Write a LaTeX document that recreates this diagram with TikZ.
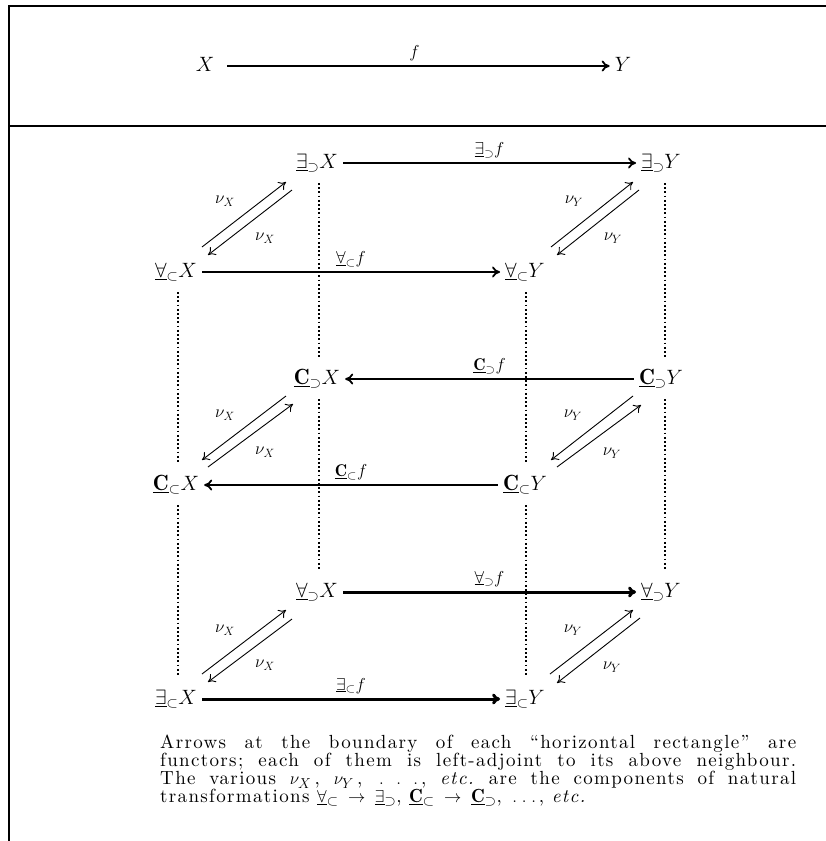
\documentclass[tikz,border=0pt]{standalone}
\usepackage{fontspec}
\usetikzlibrary{arrows.meta}
\newfontfamily\capfont{lmroman10-regular}[Extension=.otf, LetterSpace=7, ItalicFont=lmroman10-italic, BoldFont=lmroman10-bold]
\tikzset{
  obj/.style={font=\fontsize{22}{26}\selectfont, text height=15pt, text depth=4pt, inner sep=5pt},
  lab/.style={font=\fontsize{17}{20}\selectfont, inner sep=4pt},
  nulab/.style={font=\fontsize{18}{20}\selectfont, inner sep=0pt},
  harrow/.style={line width=1.8pt, -{To[length=8pt,width=11pt]}},
  heavyarrow/.style={line width=3pt, -{To[length=8pt,width=11pt]}},
  narrow/.style={line width=0.9pt, -{To[length=7pt,width=10pt]}},
  dotline/.style={line width=1.8pt, dash pattern=on 1.8pt off 2.4pt, shorten <=20pt, shorten >=22pt},
  framerule/.style={line width=2.8pt, line join=miter},
  captext/.style={font=\capfont\fontsize{19}{18}\selectfont\frenchspacing, text width=636pt, align=justify, inner sep=0pt}
}
\newcommand{\ulsub}[2]{\underline{#1}_{#2}}
\begin{document}
\begin{tikzpicture}[x=1pt,y=-1pt]
\useasboundingbox (0,0) rectangle (826,841);
% frame
\draw[framerule] (9,841) -- (9,6) -- (826,6);
\draw[framerule] (9,126) -- (826,126);
% top diagram
\node[obj] (tx) at (205,66) {$X$};
\node[obj] (ty) at (623,66) {$Y$};
\draw[harrow, shorten <=8pt] (tx) -- node[lab, above] (tf) {$f$} (ty);
% cube nodes
\node[obj] (eX) at (317,163) {$\ulsub{\exists}{\supset}X$};
\node[obj] (eY) at (661,163) {$\ulsub{\exists}{\supset}Y$};
\node[obj] (aX) at (176,272) {$\ulsub{\forall}{\subset}X$};
\node[obj] (aY) at (525,272) {$\ulsub{\forall}{\subset}Y$};
\node[obj] (cX) at (317,379) {$\ulsub{\mathbf{C}}{\supset}X$};
\node[obj] (cY) at (661,379) {$\ulsub{\mathbf{C}}{\supset}Y$};
\node[obj] (dX) at (176,485) {$\ulsub{\mathbf{C}}{\subset}X$};
\node[obj] (dY) at (525,485) {$\ulsub{\mathbf{C}}{\subset}Y$};
\node[obj] (bX) at (317,592) {$\ulsub{\forall}{\supset}X$};
\node[obj] (bY) at (661,592) {$\ulsub{\forall}{\supset}Y$};
\node[obj] (gX) at (176,699) {$\ulsub{\exists}{\subset}X$};
\node[obj] (gY) at (525,699) {$\ulsub{\exists}{\subset}Y$};
% dotted verticals
\draw[dotline] ([xshift=2pt]eX.center) -- ([xshift=2pt]cX.center);
\draw[dotline] ([xshift=2pt]cX.center) -- ([xshift=2pt]bX.center);
\draw[dotline] ([xshift=4pt]eY.center) -- ([xshift=4pt]cY.center);
\draw[dotline] ([xshift=4pt]cY.center) -- ([xshift=4pt]bY.center);
\draw[dotline] ([xshift=2pt]aX.center) -- ([xshift=2pt]dX.center);
\draw[dotline] ([xshift=2pt]dX.center) -- ([xshift=2pt]gX.center);
\draw[dotline] ([xshift=1pt]aY.center) -- ([xshift=1pt]dY.center);
\draw[dotline] ([xshift=1pt]dY.center) -- ([xshift=1pt]gY.center);
% horizontal arrows
\draw[harrow] (eX) -- node[lab, above] (leXY) {$\ulsub{\exists}{\supset}f$} (eY);
\draw[harrow] (aX) -- node[lab, above] (laXY) {$\ulsub{\forall}{\subset}f$} (aY);
\draw[harrow] (cY) -- node[lab, above] (lcXY) {$\ulsub{\mathbf{C}}{\supset}f$} (cX);
\draw[harrow] (dY) -- node[lab, above] (ldXY) {$\ulsub{\mathbf{C}}{\subset}f$} (dX);
\draw[heavyarrow] (bX) -- node[lab, above] (lbXY) {$\ulsub{\forall}{\supset}f$} (bY);
\draw[heavyarrow] (gX) -- node[lab, above] (lgXY) {$\ulsub{\exists}{\subset}f$} (gY);
% diagonal pairs: top
\draw[narrow] ([shift={(26,-25)}]aX.center) -- ([shift={(-31,19)}]eX.center);
\draw[narrow] ([shift={(-25,27)}]eX.center) -- ([shift={(32,-17)}]aX.center);
\draw[narrow] ([shift={(26,-25)}]aY.center) -- ([shift={(-28,19)}]eY.center);
\draw[narrow] ([shift={(-22,27)}]eY.center) -- ([shift={(32,-17)}]aY.center);
\node[nulab] (n1) at ([shift={(49,-71)}]aX.center) {$\nu_X$};
\node[nulab] (n2) at ([shift={(89,-34)}]aX.center) {$\nu_X$};
\node[nulab] (n3) at ([shift={(49,-71)}]aY.center) {$\nu_Y$};
\node[nulab] (n4) at ([shift={(88,-34)}]aY.center) {$\nu_Y$};
% middle
\draw[narrow] ([shift={(-31,17)}]cX.center) -- ([shift={(26,-25)}]dX.center);
\draw[narrow] ([shift={(32,-18)}]dX.center) -- ([shift={(-24,25)}]cX.center);
\draw[narrow] ([shift={(-28,17)}]cY.center) -- ([shift={(26,-25)}]dY.center);
\draw[narrow] ([shift={(32,-18)}]dY.center) -- ([shift={(-20,26)}]cY.center);
\node[nulab] (n5) at ([shift={(49,-70)}]dX.center) {$\nu_X$};
\node[nulab] (n6) at ([shift={(89,-33)}]dX.center) {$\nu_X$};
\node[nulab] (n7) at ([shift={(48,-70)}]dY.center) {$\nu_Y$};
\node[nulab] (n8) at ([shift={(87,-32)}]dY.center) {$\nu_Y$};
% bottom
\draw[narrow] ([shift={(26,-25)}]gX.center) -- ([shift={(-31,18)}]bX.center);
\draw[narrow] ([shift={(-25,27)}]bX.center) -- ([shift={(32,-17)}]gX.center);
\draw[narrow] ([shift={(25,-25)}]gY.center) -- ([shift={(-28,18)}]bY.center);
\draw[narrow] ([shift={(-21,26)}]bY.center) -- ([shift={(32,-16)}]gY.center);
\node[nulab] (n9) at ([shift={(49,-69)}]gX.center) {$\nu_X$};
\node[nulab] (n10) at ([shift={(89,-34)}]gX.center) {$\nu_X$};
\node[nulab] (n11) at ([shift={(48,-69)}]gY.center) {$\nu_Y$};
\node[nulab] (n12) at ([shift={(87,-32)}]gY.center) {$\nu_Y$};
% caption
\node[captext, anchor=north west] (cap) at (160,735) {Arrows at the boundary of each “horizontal rectangle” are\linebreak functors; each of them is left-adjoint to its above neighbour.\linebreak The various $\nu_X$\,, $\nu_Y$\,, $\,.\;.\;.\,$, \emph{etc.} are the components of natural\linebreak transformations $\ulsub{\forall}{\subset}\;\to\;\ulsub{\exists}{\supset}$, $\ulsub{\mathbf{C}}{\subset}\;\to\;\ulsub{\mathbf{C}}{\supset}$, $\,.\;.\;.\,$, \emph{etc.}};
\end{tikzpicture}
\end{document}
